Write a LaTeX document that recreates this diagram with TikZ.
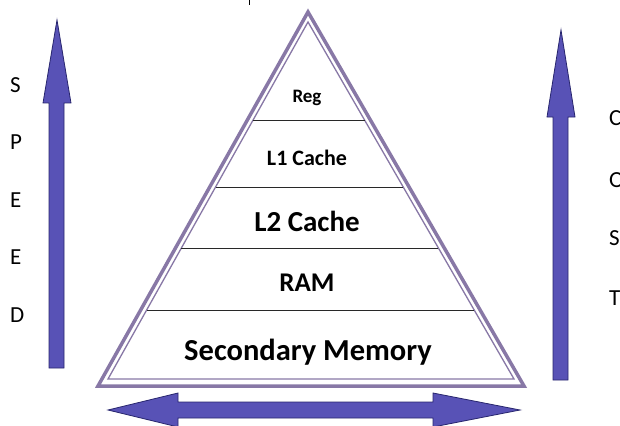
\documentclass[tikz,border=0pt]{standalone}
\usepackage{fontspec}
\setmainfont{Carlito}
\definecolor{arrowfill}{RGB}{88,82,182}
\definecolor{arrowline}{RGB}{40,38,110}
\definecolor{tri}{RGB}{136,120,166}
\definecolor{divider}{RGB}{40,40,40}
\tikzset{
  bigarrow/.style={fill=arrowfill, draw=arrowline, line width=0.8pt, line join=miter},
  trioutline/.style={draw=tri, line width=3.5pt, line join=miter},
  triinner/.style={draw=tri, line width=1.3pt, line join=miter},
  divline/.style={draw=divider, line width=1pt},
  layer/.style={text=black, inner sep=0pt},
  letter/.style={font=\fontsize{23}{23}\selectfont, text=black, inner sep=0pt, anchor=west}
}
\begin{document}
\begin{tikzpicture}[x=1pt,y=-1pt]
\useasboundingbox (0,0) rectangle (620,425);
\clip (0,0) rectangle (620,425);
\fill[white] (0,0) rectangle (620,425);
% tiny clipped mark at top
\draw[black, line width=1pt] (249,0) -- (249,5);
% pyramid
\coordinate (apexO) at (308,12);
\coordinate (blO) at (98,386);
\coordinate (brO) at (524,386);
\coordinate (apexI) at (308,22);
\coordinate (blI) at (108,379);
\coordinate (brI) at (514,379);
\path[trioutline] (apexO) -- (blO) -- (brO) -- cycle;
\path[triinner] (apexI) -- (blI) -- (brI) -- cycle;
% dividers
\coordinate (d1l) at (253,120); \coordinate (d1r) at (365,120);
\coordinate (d2l) at (216,187); \coordinate (d2r) at (403,187);
\coordinate (d3l) at (181,248); \coordinate (d3r) at (438,248);
\coordinate (d4l) at (147,310); \coordinate (d4r) at (474,310);
\path[divline] (d1l) -- (d1r);
\path[divline] (d2l) -- (d2r);
\path[divline] (d3l) -- (d3r);
\path[divline] (d4l) -- (d4r);
% layer labels
\node[layer, font=\bfseries\fontsize{19}{19}\selectfont] (reg) at (307,98) {Reg};
\node[layer, font=\bfseries\fontsize{22}{22}\selectfont] (l1) at (307,158) {L1 Cache};
\node[layer, font=\bfseries\fontsize{29}{29}\selectfont] (l2) at (307,221) {L2 Cache};
\node[layer, font=\bfseries\fontsize{27}{27}\selectfont] (ram) at (307,283) {RAM};
\node[layer, font=\bfseries\fontsize{30.5}{30.5}\selectfont] (sec) at (308,352) {Secondary Memory};
% left speed arrow
\path[bigarrow] (57,20) -- (71,103) -- (64,103) -- (64,368) -- (49,368) -- (49,103) -- (43,103) -- cycle;
% right cost arrow
\path[bigarrow] (561,30) -- (575,117) -- (568,117) -- (568,380) -- (553,380) -- (553,117) -- (547,117) -- cycle;
% bottom double arrow
\path[bigarrow] (108,410) -- (178,393) -- (178,402) -- (433,402) -- (433,393) -- (520,410) -- (433,427) -- (433,418) -- (178,418) -- (178,427) -- cycle;
% SPEED
\node[letter] (s1) at (10,85) {S};
\node[letter] (s2) at (10,142) {P};
\node[letter] (s3) at (10,200) {E};
\node[letter] (s4) at (10,257) {E};
\node[letter] (s5) at (10,315) {D};
% COST
\node[letter] (c1) at (609,118) {C};
\node[letter] (c2) at (609,180) {O};
\node[letter] (c3) at (609,238) {S};
\node[letter] (c4) at (609,298) {T};
\end{tikzpicture}
\end{document}
